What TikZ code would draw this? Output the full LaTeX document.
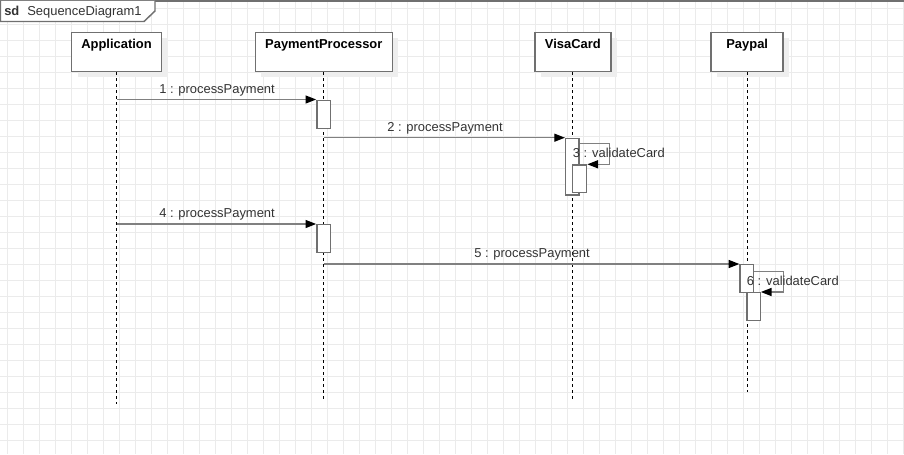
\documentclass[tikz,border=0pt]{standalone}
\usepackage{fontspec}
\setmainfont{Liberation Sans}
\usetikzlibrary{arrows.meta,shadows}
\definecolor{linegray}{HTML}{808080}
\definecolor{boxgray}{HTML}{707070}
\definecolor{gridgray}{HTML}{EBEBEB}
\definecolor{shadowgray}{HTML}{EEEEEE}
\definecolor{textgray}{HTML}{333333}

\begin{document}
\begin{tikzpicture}[x=0.75pt,y=-0.75pt,font=\fontsize{9.7}{11.6}\selectfont]
% Define the node styles
\tikzstyle{head} = [draw=boxgray, line width=1.1pt, fill=white, rectangle, anchor=north, minimum height=29.25pt, inner ysep=0pt, text height=12.2pt, text depth=17.05pt, font=\fontsize{9.7}{11.6}\selectfont\bfseries, drop shadow={shadow xshift=4.5pt, shadow yshift=-4.5pt, fill=shadowgray, opacity=1}]
\tikzstyle{act} = [draw=boxgray, line width=1pt, fill=white, rectangle, anchor=north, minimum width=10pt, minimum height=21pt, inner sep=0pt]
\tikzstyle{msg} = [draw=linegray, line width=1pt, -{Triangle[length=8pt, width=6pt, color=black]}]
\tikzstyle{life} = [draw=black, line width=0.75pt, dash pattern=on 2.25pt off 2.25pt]
\tikzstyle{lbl} = [anchor=base, inner sep=0pt, text=textgray]

\useasboundingbox (0,0) rectangle (904,454);

% Define the grid
\foreach \gx in {7.5,23.5,...,903.5} \draw[gridgray, line width=0.75pt] (\gx,0) -- (\gx,454);
\foreach \gy in {8,24,...,448} \draw[gridgray, line width=0.75pt] (0,\gy) -- (904,\gy);

% Define the frame
\draw[boxgray, line width=1.5pt] (0,0.75) -- (904,0.75);
\draw[boxgray, line width=1.1pt, fill=white] (0.5,0.75) -- (0.5,21.5) -- (144,21.5) -- (155,11) -- (155,0.75);
\node[anchor=base west, inner sep=0pt, text=textgray] (sd) at (4,15.5) {\textbf{sd}\hspace{6pt}SequenceDiagram1};

% Define the lifelines
\node[head, minimum width=67.5pt] (App) at (116.5,31.7) {Application};
\node[head, minimum width=102.75pt] (PP) at (323.8,31.7) {PaymentProcessor};
\node[head, minimum width=57pt] (Visa) at (572.8,31.7) {VisaCard};
\node[head, minimum width=54pt] (Pay) at (747.2,31.7) {Paypal};

\coordinate (AppEnd) at (116.5,404);
\coordinate (PPEnd) at (323.8,398.5);
\coordinate (VisaEnd) at (572.8,398.5);
\coordinate (PayEnd) at (747.2,392);

\draw[life] (App) -- (AppEnd);
\draw[life] (PP) -- (PPEnd);
\draw[life] (Visa) -- (VisaEnd);
\draw[life] (Pay) -- (PayEnd);

% Define the activations
\node[act] (PP1) at (323.5,99.5) {};
\node[act, minimum height=42.5pt] (Visa1) at (572.3,137.7) {};
\node[act, minimum width=10.5pt, minimum height=20.8pt] (Visa2) at (579.7,164.3) {};
\node[act] (PP2) at (323.5,224) {};
\node[act] (Pay1) at (746.7,264) {};
\node[act] (Pay2) at (753.5,292) {};

% Define the messages
\draw[msg] (App |- PP1.north west) -- (PP1.north west);
\draw[msg] (PP |- Visa1.north west) -- (Visa1.north west);
\draw[msg] ([yshift=-4.5pt]Visa1.north east) -- ++(30,0) |- (Visa2.north east);
\draw[msg] (App |- PP2.north west) -- (PP2.north west);
\draw[msg] (PP |- Pay1.north west) -- (Pay1.north west);
\draw[msg] ([yshift=-5.75pt]Pay1.north east) -- ++(29.7,0) |- (Pay2.north east);

\node[lbl] (m1) at (217,93) {1 : processPayment};
\node[lbl] (m2) at (445,131) {2 : processPayment};
\node[lbl, anchor=base west] (m3) at (572.7,157) {3 : validateCard};
\node[lbl] (m4) at (217,217.5) {4 : processPayment};
\node[lbl] (m5) at (532,257.5) {5 : processPayment};
\node[lbl, anchor=base west] (m6) at (746.7,285) {6 : validateCard};

\end{tikzpicture}
\end{document}
